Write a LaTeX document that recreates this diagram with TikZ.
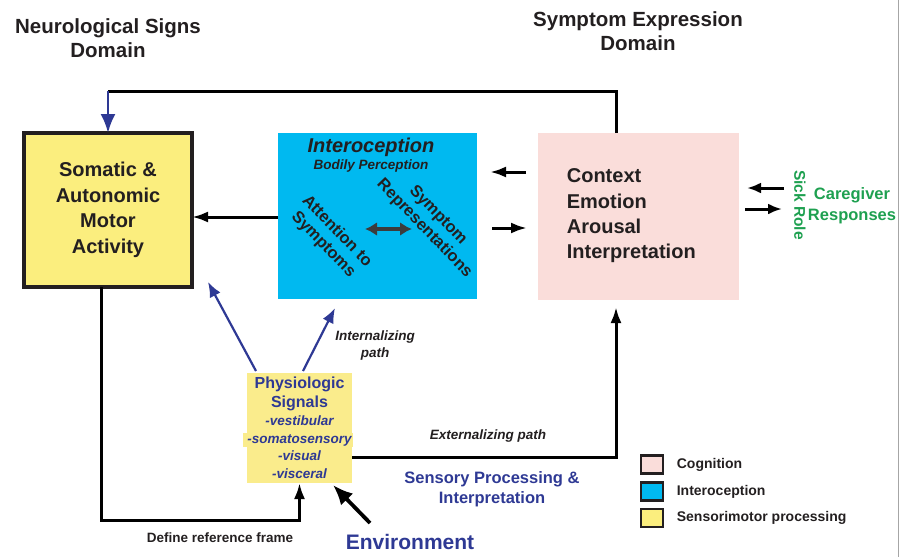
\documentclass[tikz,border=0pt]{standalone}
\usepackage{fontspec}
\setmainfont{Liberation Sans}
\usetikzlibrary{arrows.meta}
\definecolor{ink}{RGB}{35,31,32}
\definecolor{motoryellow}{RGB}{251,238,126}
\definecolor{physyellow}{RGB}{250,236,140}
\definecolor{interocyan}{RGB}{0,185,240}
\definecolor{cogpink}{RGB}{250,221,218}
\definecolor{signalblue}{RGB}{46,57,148}
\definecolor{carergreen}{RGB}{30,160,80}
\definecolor{dualgray}{RGB}{60,60,60}
\tikzset{
  >={Latex[length=16pt,width=11pt]},
  area/.style={inner sep=0pt,outer sep=0pt},
  head/.style={align=center,font=\bfseries\fontsize{20.5}{24}\selectfont},
  keybox/.style={draw=ink,line width=2.8pt,minimum width=22pt,minimum height=18pt,inner sep=0pt},
  keytext/.style={anchor=west,font=\bfseries\fontsize{14}{16}\selectfont},
  slant/.style={align=center,font=\bfseries\itshape\fontsize{13.5}{17}\selectfont}
}
\begin{document}
\begin{tikzpicture}[x=1pt,y=-1pt,line width=3pt,every node/.style={text=ink}]
\useasboundingbox (0,0) rectangle (901,557);
\draw[black!35,line width=1pt] (898,0) -- (898,557);
% domain headings
\node[head] (neuro) at (108,38) {Neurological Signs\\Domain};
\node[head] (expr) at (638,31) {Symptom Expression\\Domain};
% the three main boxes
\node[area,draw=ink,line width=3.5pt,fill=motoryellow,minimum width=168pt,minimum height=154pt,
  align=center,font=\bfseries\fontsize{20}{25.5}\selectfont] (motor) at (108,210)
  {Somatic \&\\Autonomic\\Motor\\Activity};
\node[area,fill=interocyan,minimum width=199pt,minimum height=166pt] (intero) at (377.5,216) {};
\node[area,fill=cogpink,minimum width=201pt,minimum height=167pt] (cog) at (638.5,216.5) {};
\node[font=\bfseries\itshape\fontsize{20}{24}\selectfont] (intitle) at (371,147) {Interoception};
\node[font=\bfseries\itshape\fontsize{13.5}{16}\selectfont] (bodily) at (371,166) {Bodily Perception};
\node[rotate=-46,align=center,font=\bfseries\fontsize{16.5}{19}\selectfont] (attn) at (330,238) {Attention to\\Symptoms};
\node[rotate=-46,align=center,font=\bfseries\fontsize{16.5}{19}\selectfont] (repr) at (431,222) {Symptom\\Representations};
\coordinate (dl) at (365,229);
\coordinate (dr) at (412,229);
\draw[<->,dualgray,line width=4pt,>={Latex[length=12pt,width=14pt]}] (dl) -- (dr);
\node[anchor=west,align=left,font=\bfseries\fontsize{20}{25.3}\selectfont] (cogtext) at (562,216)
  {Context\\Emotion\\Arousal\\Interpretation};
% feedback to motor activity
\coordinate (fb) at (616,91);
\draw (fb |- cog.north) -- (fb) -- (fb -| motor.north);
\draw[->,signalblue,line width=2.6pt,>={Latex[length=19pt,width=15pt]}] (fb -| motor.north) -- (motor.north);
\draw[->] (intero.west |- 0,217) -- (motor.east |- 0,217);
\coordinate (up1) at (526,172);
\coordinate (up2) at (490,172);
\coordinate (dn1) at (492,228);
\coordinate (dn2) at (527,228);
\draw[->] (up1) -- (up2);
\draw[->] (dn1) -- (dn2);
% physiologic signals
\fill[physyellow] (243,433) rectangle (353,447);
\node[area,fill=physyellow,minimum width=95pt,minimum height=110pt,align=center,
  font=\fontsize{13.5}{17}\selectfont] (phys) at (299.5,428)
  {\textcolor{signalblue}{\bfseries\fontsize{16}{20}\selectfont Physiologic}\\[2pt]
   \textcolor{signalblue}{\bfseries\fontsize{16}{20}\selectfont Signals}\\[1pt]
   \textcolor{signalblue}{\bfseries\itshape -vestibular}\\[0.5pt]
   \textcolor{signalblue}{\bfseries\itshape -somatosensory}\\[0.5pt]
   \textcolor{signalblue}{\bfseries\itshape -visual}\\[0.5pt]
   \textcolor{signalblue}{\bfseries\itshape -visceral}};
\coordinate (pl) at (256,371);
\coordinate (pr) at (303,371);
\coordinate (tl) at (208,282);
\coordinate (tr) at (335,308);
\draw[->,signalblue,line width=2.2pt,>={Latex[length=15pt,width=12pt]}] (pl) -- (tl);
\draw[->,signalblue,line width=2.2pt,>={Latex[length=15pt,width=12pt]}] (pr) -- (tr);
\node[slant] (inpath) at (375,346) {Internalizing\\path};
% reference frame loop
\draw[->] (motor.south -| 101,0) -- (101,520) -| (phys.south);
\node[font=\bfseries\fontsize{13.5}{16}\selectfont] (refframe) at (220,538) {Define reference frame};
% externalizing path
\draw[->,shorten >=7pt] (352,457) -| (cog.south -| 616,0);
\node[slant] (expath) at (488,436) {Externalizing path};
\node[align=center,text=signalblue,font=\bfseries\fontsize{16.5}{19.5}\selectfont] (sensory) at (492,489)
  {Sensory Processing \&\\Interpretation};
\node[text=signalblue,font=\bfseries\fontsize{21}{24}\selectfont] (env) at (410,542) {Environment};
\coordinate (envtail) at (370,523);
\coordinate (envtip) at (333,485);
\draw[->,line width=3.8pt,>={Latex[length=20pt,width=17pt]}] (envtail) -- (envtip);
% sick role
\node[rotate=-90,text=carergreen,font=\bfseries\fontsize{15.5}{18}\selectfont] (sick) at (800,205) {Sick Role};
\node[align=center,text=carergreen,font=\bfseries\fontsize{16.5}{21}\selectfont] (carer) at (852,206) {Caregiver\\Responses};
\coordinate (sr1) at (784,188);
\coordinate (sr2) at (747,188);
\coordinate (sr3) at (745,209);
\coordinate (sr4) at (782,209);
\draw[->,>={Latex[length=14pt,width=11pt]}] (sr1) -- (sr2);
\draw[->,>={Latex[length=14pt,width=11pt]}] (sr3) -- (sr4);
% legend
\foreach \c/\t/\y [count=\i] in {cogpink/Cognition/464.5,interocyan/Interoception/491.5,motoryellow/Sensorimotor processing/518}{
  \node[keybox,fill=\c] (key\i) at (652,\y) {};
  \node[keytext] (keytxt\i) at (672,\y) {\t};
}
\end{tikzpicture}
\end{document}
